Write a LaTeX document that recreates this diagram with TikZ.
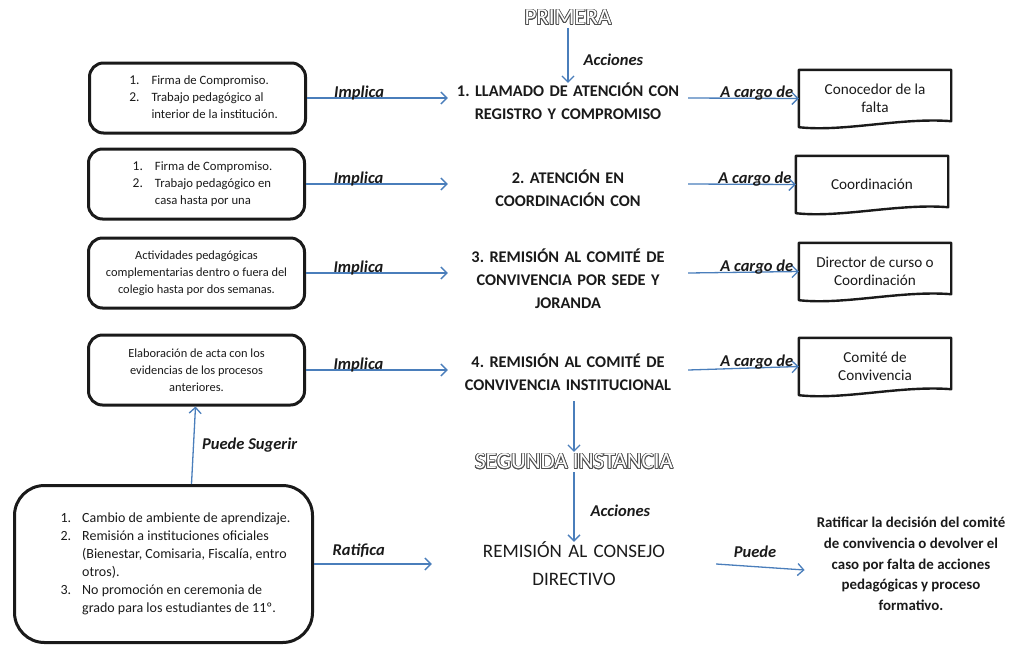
\documentclass[tikz,border=0pt]{standalone}
\usepackage{fontspec}
\setmainfont{Carlito}
\usepackage{contour}
\usetikzlibrary{arrows.meta,calc}
\definecolor{arrblue}{HTML}{4A7EBB}
\definecolor{txt}{HTML}{1A1A1A}
\definecolor{outl}{HTML}{505050}
\contourlength{0.8pt}
\frenchspacing
\newcommand\mydoc[1]{\draw[docline] (#1.south west) -- (#1.north west) -- (#1.north east) -- ($(#1.south east)+(0,-6)$) .. controls ($(#1.south east)+(-50,-10)$) and ($(#1.south west)+(45,5)$) .. (#1.south west) -- cycle;}
\begin{document}
\begin{tikzpicture}[x=1pt,y=-1pt,
 arr/.style={draw=arrblue,line width=1.3pt,-{Straight Barb[length=6pt,width=12pt]}},
 lbl/.style={font=\fontsize{16.5}{18}\selectfont\bfseries\itshape, text=txt, inner sep=0pt},
 lbox/.style={draw=txt,line width=3pt,rounded corners=14pt,minimum width=216pt,minimum height=70pt, inner sep=0pt, align=center, text=txt},
 ctxt/.style={font=\fontsize{12.4}{17}\selectfont},
 head/.style={font=\fontsize{16.3}{23}\selectfont\bfseries, text width=240pt, align=center, inner sep=0pt, text=txt},
 docbox/.style={minimum width=152pt, minimum height=57pt, inner sep=0pt, align=center, font=\fontsize{15.2}{18.5}\selectfont, text=txt},
 docline/.style={draw=txt, line width=2.4pt, line join=round},
 ttl/.style={font=\fontsize{23}{26}\selectfont, inner sep=2pt}
]
\useasboundingbox (0,0) rectangle (1009,646);

% titles
\node[ttl] (p) at (568,18) {\contour{outl}{\textcolor{white}{PRIMERA}}};
\node[ttl] (s) at (574,462) {\contour{outl}{\textcolor{white}{SEGUNDA INSTANCIA}}};

% headings
\node[head] (h1) at (568,101.5) {1. LLAMADO DE ATENCIÓN CON\\REGISTRO Y COMPROMISO};
\node[head] (h2) at (568,188) {2. ATENCIÓN EN\\COORDINACIÓN CON};
\node[head] (h3) at (568,279) {3. REMISIÓN AL COMITÉ DE\\CONVIVENCIA POR SEDE Y\\JORANDA};
\node[head] (h4) at (568,372.5) {4. REMISIÓN AL COMITÉ DE\\CONVIVENCIA INSTITUCIONAL};
\node[font=\fontsize{19}{28}\selectfont, text width=284pt, align=center, inner sep=0pt, text=txt] (c) at (574,564) {REMISIÓN AL CONSEJO\\DIRECTIVO};

% left boxes
\node[lbox] (l1) at (197.5,98) {\hspace*{12pt}\fontsize{12.7}{17}\selectfont\begin{tabular}{@{}l@{\hspace{12pt}}l@{}}{\fontsize{13.5}{17}\selectfont 1.} & Firma de Compromiso.\\ {\fontsize{13.5}{17}\selectfont 2.} & Trabajo pedagógico al\\ & interior de la institución.\end{tabular}};
\node[lbox] (l2) at (196.5,184) {\hspace*{12pt}\fontsize{12.7}{17}\selectfont\begin{tabular}{@{}l@{\hspace{12pt}}l@{}}{\fontsize{13.5}{17}\selectfont 1.} & Firma de Compromiso.\\ {\fontsize{13.5}{17}\selectfont 2.} & Trabajo pedagógico en\\ & casa hasta por una\end{tabular}};
\node[lbox,ctxt] (l3) at (196.5,273) {Actividades pedagógicas\\complementarias dentro o fuera del\\colegio hasta por dos semanas.};
\node[lbox,ctxt] (l4) at (196.5,370) {Elaboración de acta con los\\evidencias de los procesos\\anteriores.};

% bottom box
\node[draw=txt,line width=3pt,rounded corners=30pt,minimum width=298pt,minimum height=157pt,inner sep=0pt,text=txt] (b) at (163.5,564)
 {\hspace*{24pt}\fontsize{14}{18}\selectfont\begin{tabular}{@{}l@{\hspace{11pt}}l@{}}1. & Cambio de ambiente de aprendizaje.\\ 2. & Remisión a instituciones oficiales\\ & (Bienestar, Comisaria, Fiscalía, entro\\ & otros).\\ 3. & No promoción en ceremonia de\\ & grado para los estudiantes de 11º.\end{tabular}};

% right document boxes
\node[docbox] (r1) at (875,98.5) {Conocedor de la\\falta};
\node[docbox] (r2) at (872,184.5) {Coordinación};
\node[docbox] (r3) at (875,271.5) {Director de curso o\\Coordinación};
\node[docbox] (r4) at (875,366.5) {Comité de\\Convivencia};
\mydoc{r1}\mydoc{r2}\mydoc{r3}\mydoc{r4}

% final text
\node[font=\fontsize{14.9}{20.7}\selectfont\bfseries, align=center, text=txt, inner sep=0pt] (f) at (911,564) {Ratificar la decisión del comité\\de convivencia o devolver el\\caso por falta de acciones\\pedagógicas y proceso\\formativo.};

% vertical connectors
\draw[arr] (p.south) -- (h1.north) node[lbl,midway,right=15pt,yshift=-4pt] {Acciones};
\draw[arr,shorten <=10pt] (h4.south -| s.north) -- (s.north);
\draw[arr] (s.south) -- (c.north) node[lbl,midway,right=16pt,yshift=-4pt] {Acciones};
\draw[arr] ([xshift=28pt]b.north) -- ([xshift=-1pt]l4.south) node[lbl,midway,right=8pt] {Puede Sugerir};

% horizontal connectors
\foreach \i in {1,2,3,4}{
  \draw[arr] (l\i.east) -- (l\i.east -| h\i.west) node[lbl,pos=0.37,anchor=base,yshift=1pt] {Implica};
  \draw[arr] (l\i.east -| h\i.east) -- (r\i.west) node[lbl,pos=0.62,anchor=base,yshift=1pt] {A cargo de};
}
\draw[arr] (b.east) -- (c.west) node[lbl,pos=0.38,anchor=base,yshift=9pt] {Ratifica};
\draw[arr] (c.east) -- ($(f.west)+(-12,6)$) node[lbl,pos=0.44,anchor=base,yshift=9pt] {Puede};
\end{tikzpicture}
\end{document}
